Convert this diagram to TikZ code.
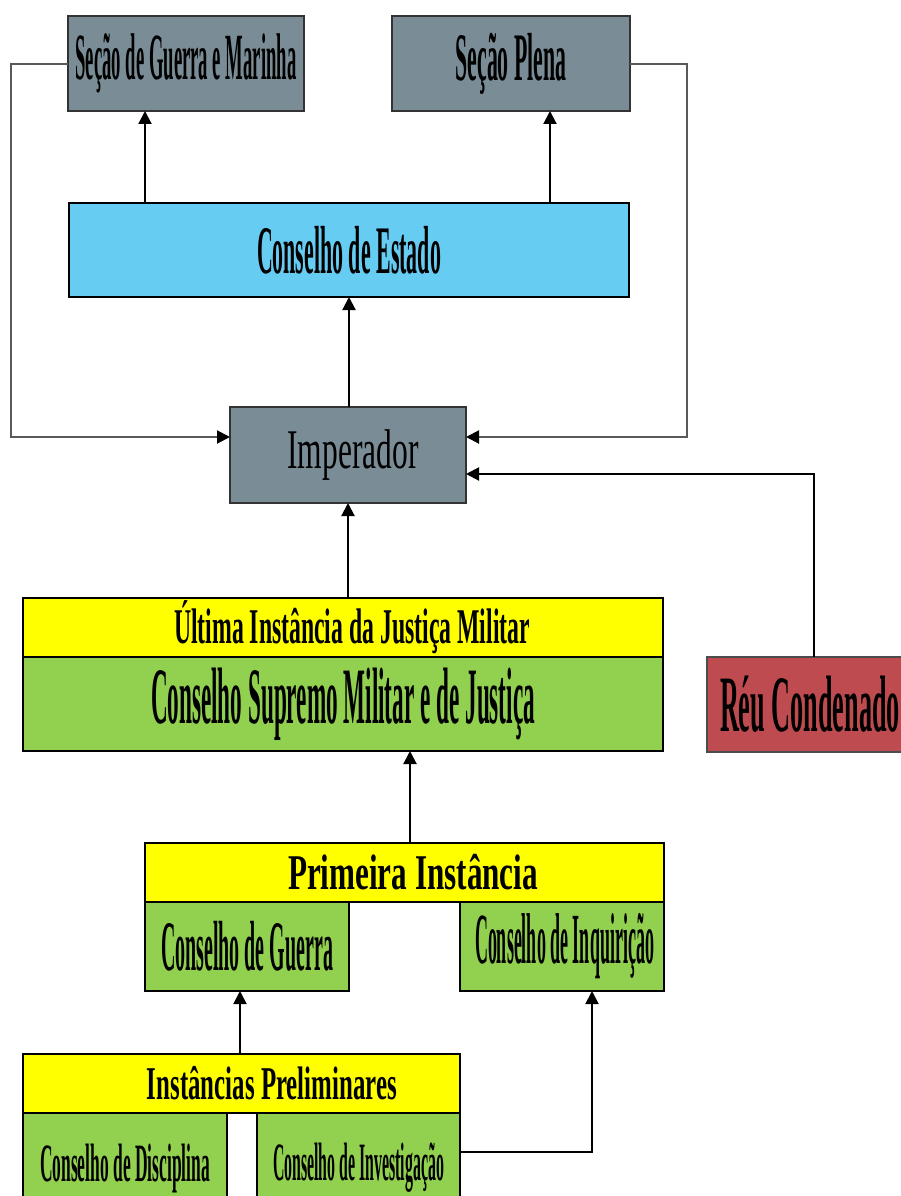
\documentclass[tikz,border=0pt]{standalone}
\usepackage{fontspec}
\setmainfont{Liberation Serif}
\usepackage{graphicx}
\usetikzlibrary{arrows.meta}

\definecolor{secgray}{HTML}{7A8C96}
\definecolor{estblue}{HTML}{66CCF2}
\definecolor{instyellow}{HTML}{FFFF00}
\definecolor{conselhogreen}{HTML}{92D050}
\definecolor{reured}{HTML}{BE4B50}

% squeezed text: width, font size, text
\newcommand{\sqz}[3]{\resizebox{#1pt}{\height}{\fontsize{#2pt}{#2pt}\selectfont #3}}

\tikzset{
    box/.style={draw=black, line width=1.5pt, anchor=north west, inner sep=0pt, outer sep=0pt, font=\bfseries},
    graybox/.style={box, fill=secgray, draw=black!80},
    bluebox/.style={box, fill=estblue},
    yellowbox/.style={box, fill=instyellow},
    greenbox/.style={box, fill=conselhogreen},
    redbox/.style={box, fill=reured, draw=black!70},
    arr/.style={-{Triangle[length=13pt,width=13pt,color=black]}, line width=2pt},
    link/.style={draw=black!65, line width=2pt}
}

\begin{document}
\begin{tikzpicture}[x=1pt, y=-1pt]
    \useasboundingbox (0,0) rectangle (901,1196);
    \clip (0,0) rectangle (901,1196);

    % top row
    \node[graybox, minimum width=236pt, minimum height=95pt] (sgm) at (68,16) {\sqz{221}{66}{Seção de Guerra e Marinha}};
    \node[graybox, minimum width=238pt, minimum height=95pt] (sp) at (392,16) {\sqz{111}{68}{Seção Plena}};
    \node[bluebox, minimum width=560pt, minimum height=94pt] (ce) at (69,203) {\sqz{184}{68}{Conselho de Estado}};
    \node[graybox, minimum width=236pt, minimum height=96pt, font=\mdseries] (imp) at (230,407) {\hspace*{10pt}\sqz{131}{56}{Imperador}};

    % ultima instancia
    \node[yellowbox, minimum width=640pt, minimum height=59pt] (uijm) at (23,598) {\hspace*{18pt}\sqz{356}{50}{Última Instância da Justiça Militar}};
    \node[greenbox, minimum width=640pt, minimum height=94pt] (csmj) at (23,657) {\sqz{384}{80}{Conselho Supremo Militar e de Justiça}};
    \node[redbox, minimum width=214pt, minimum height=95pt] (reu) at (707,657) {\hspace*{-8pt}\sqz{180}{80}{Réu Condenado}};

    % primeira instancia
    \node[yellowbox, minimum width=519pt, minimum height=59pt] (pi) at (145,843) {\hspace*{17pt}\sqz{250}{50}{Primeira Instância}};
    \node[greenbox, minimum width=204pt, minimum height=89pt] (cg) at (145,902) {\sqz{172}{71}{Conselho de Guerra}};
    \node[greenbox, minimum width=204pt, minimum height=89pt] (cinq) at (460,902) {\hspace*{5pt}\raisebox{-5pt}{\sqz{179}{72}{Conselho de Inquirição}}};

    % instancias preliminares
    \node[yellowbox, minimum width=437pt, minimum height=59pt] (ip) at (23,1054) {\hspace*{61pt}\sqz{250}{47}{Instâncias Preliminares}};
    \node[greenbox, minimum width=204pt, minimum height=110pt] (cd) at (23,1113) {\sqz{170}{54}{Conselho de Disciplina}};
    \node[greenbox, minimum width=203pt, minimum height=110pt] (cinv) at (257,1113) {\sqz{171}{54}{Conselho de Investigação}};

    \coordinate (lft) at (11,64);
    \coordinate (rgt) at (687,64);

    % arrows
    \draw[arr] ([xshift=76pt]ce.north west) -- ([xshift=76pt]ce.north west |- sgm.south);
    \draw[arr] ([xshift=-79pt]ce.north east) -- ([xshift=-79pt]ce.north east |- sp.south);
    \draw[arr] (imp.north -| ce.south) -- (ce.south);
    \draw[link, arr] (sgm.west |- lft) -- (lft) |- ([yshift=18pt]imp.west);
    \draw[link, arr] (sp.east |- rgt) -- (rgt) |- ([yshift=18pt]imp.east);
    \draw[arr] (reu.north) |- ([yshift=-19pt]imp.east);
    \draw[arr] (uijm.north -| imp.south) -- (imp.south);
    \draw[arr] ([xshift=5.5pt]pi.north) -- ([xshift=5.5pt]pi.north |- csmj.south);
    \draw[arr] ([xshift=-1.5pt]ip.north) -- ([xshift=-1.5pt]ip.north |- cg.south);
    \draw[arr] ([yshift=-39pt]cinv.north east) -| ([xshift=30pt]cinq.south);
\end{tikzpicture}
\end{document}
